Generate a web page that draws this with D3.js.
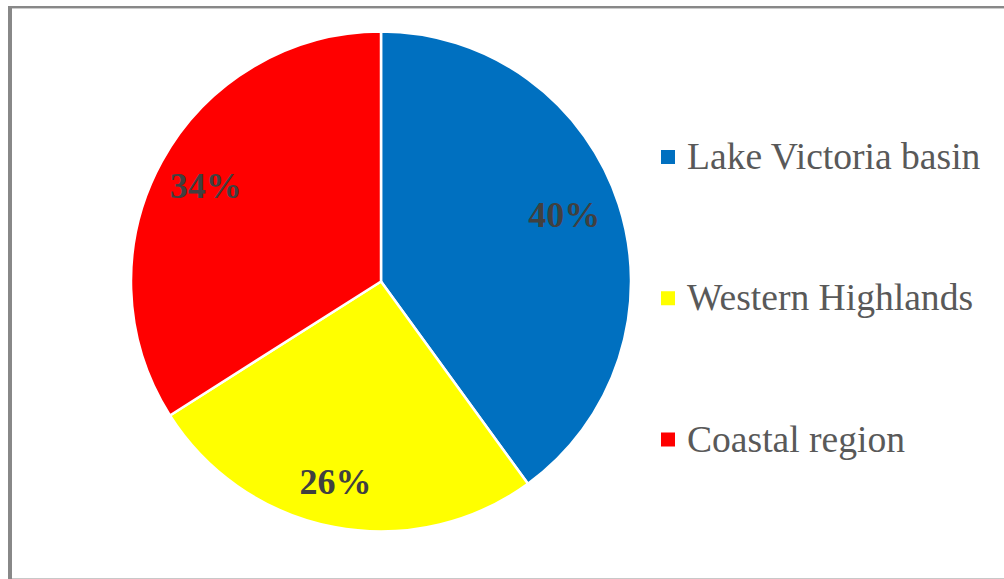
<!DOCTYPE html>
<html>
<head>
<meta charset="utf-8">
<script src="https://cdn.jsdelivr.net/npm/d3@7"></script>
<style>
  html, body { margin: 0; padding: 0; background: #fff; }
  svg { display: block; }
</style>
</head>
<body>
<svg id="chart" width="1004" height="579"></svg>
<script>
// Share of respondents by region
const regions = ["Lake Victoria basin", "Western Highlands", "Coastal region"];
const shares = [40, 26, 34];
const colors = ["#0070C0", "#FFFF00", "#FF0000"];

const W = 1004, H = 579;
const svg = d3.select("#chart");

// chart frame
svg.append("line").attr("x1", 10).attr("x2", 10).attr("y1", 6).attr("y2", 579)
  .attr("stroke", "#888").attr("stroke-width", 4);
svg.append("line").attr("x1", 8).attr("x2", W).attr("y1", 7).attr("y2", 7)
  .attr("stroke", "#888").attr("stroke-width", 2);
svg.append("line").attr("x1", 12).attr("x2", W).attr("y1", 8.5).attr("y2", 8.5)
  .attr("stroke", "#ccc").attr("stroke-width", 1);
svg.append("line").attr("x1", 12).attr("x2", W).attr("y1", 578.5).attr("y2", 578.5)
  .attr("stroke", "#c8c8c8").attr("stroke-width", 1);

const cx = 381, cy = 281.5, r = 250;
const data = regions.map((name, i) => ({ name, value: shares[i], color: colors[i] }));

const pie = d3.pie().value(d => d.value).sort(null);
const arc = d3.arc().innerRadius(0).outerRadius(r);
const labelArc = d3.arc().innerRadius(r * 0.8).outerRadius(r * 0.8);
// best-fit style shifts of the percentage labels, in pixels
const labelShift = [[-7, -5], [-8, 3], [0, 0]];

const g = svg.append("g").attr("transform", `translate(${cx},${cy})`);
const arcs = pie(data);

g.selectAll("path.slice").data(arcs).join("path")
  .attr("class", "slice")
  .attr("d", arc)
  .attr("fill", d => d.data.color)
  .attr("stroke", "#fff")
  .attr("stroke-width", 2.5)
  .attr("stroke-linejoin", "round");

g.selectAll("text.pct").data(arcs).join("text")
  .attr("class", "pct")
  .attr("transform", (d, i) => {
    const [x, y] = labelArc.centroid(d);
    return `translate(${x + labelShift[i][0]},${y + labelShift[i][1]})`;
  })
  .attr("text-anchor", "middle")
  .attr("dy", "0.35em")
  .attr("font-family", "'Liberation Serif', 'Times New Roman', serif")
  .attr("font-weight", "bold")
  .attr("font-size", 36)
  .attr("fill", "#404040")
  .text(d => d.data.value + "%");

// legend
const legendY = d3.scalePoint().domain(regions).range([169, 451.5]);
const legend = svg.append("g");
const items = legend.selectAll("g").data(data).join("g")
  .attr("transform", d => `translate(661,${legendY(d.name)})`);
items.append("rect")
  .attr("x", 0).attr("y", -19).attr("width", 14).attr("height", 14)
  .attr("fill", d => d.color);
items.append("text")
  .attr("x", 26).attr("y", 0)
  .attr("font-family", "'Liberation Serif', 'Times New Roman', serif")
  .attr("font-size", 37.6)
  .attr("fill", "#595959")
  .text(d => d.name);
</script>
</body>
</html>
